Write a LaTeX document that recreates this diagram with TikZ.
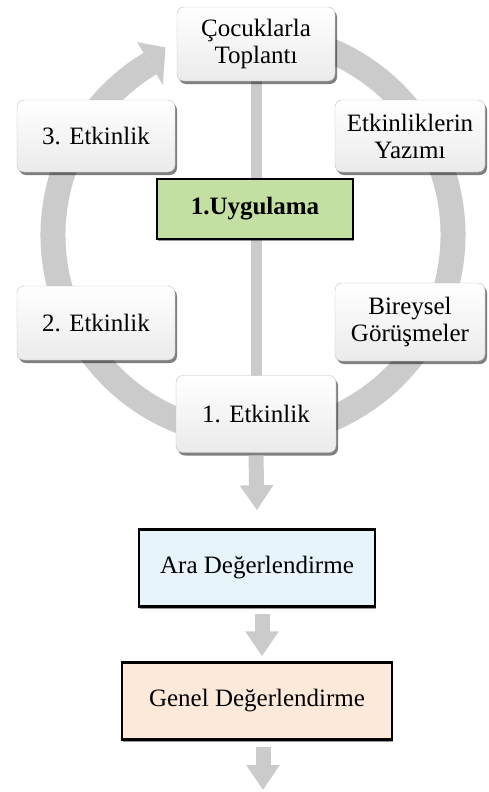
\documentclass[tikz,border=0pt]{standalone}
\usepackage{fontspec}
\setmainfont{Liberation Serif}
\usetikzlibrary{arrows.meta,shadows,calc,backgrounds}

\definecolor{ringgray}{HTML}{CBCBCB}
\definecolor{uygreen}{HTML}{C4DFA2}
\definecolor{arablue}{HTML}{E8F4FC}
\definecolor{genelpeach}{HTML}{FCE9DA}

\tikzset{
  cyclebox/.style={rounded corners=7pt, draw=black!25, top color=white, bottom color=black!8,
    drop shadow={shadow xshift=2pt, shadow yshift=-3pt, opacity=.5, fill=black},
    align=center, minimum width=158pt, minimum height=74pt, inner sep=2pt,
    font=\fontsize{25}{27}\selectfont},
  flatbox/.style={draw=black, line width=2.5pt, align=center, inner sep=2pt,
    drop shadow={shadow xshift=1pt, shadow yshift=-2pt, opacity=.4, fill=black},
    font=\fontsize{25}{27}\selectfont},
  flowarrow/.style={ringgray, line width=15pt, -{Triangle[length=25pt,width=32pt]}}
}

\begin{document}
\begin{tikzpicture}[x=1pt,y=1pt]
  \useasboundingbox (0,0) rectangle (488,-792);

  % ring with arrow
  \coordinate (c) at (253,-235);
  \draw[ringgray, line width=25pt] ($(c)+(80:200)$) arc[start angle=80, end angle=-239, radius=200];
  \fill[ringgray] ($(c)+(121:175)$) -- ($(c)+(121:225)$) -- ($(c)+(115:207)$) -- cycle;

  % cycle boxes
  \node[cyclebox] (top) at (256,-44) {Çocuklarla\\Toplantı};
  \node[cyclebox, minimum width=150pt, minimum height=72pt] (yazim) at (410,-136) {Etkinliklerin\\Yazımı};
  \node[cyclebox, minimum width=150pt, minimum height=78pt] (bireysel) at (410,-322) {Bireysel\\Görüşmeler};
  \node[cyclebox, minimum width=160pt, minimum height=77pt] (etk1) at (256,-414) {1. Etkinlik};
  \node[cyclebox] (etk2) at (96,-323) {2. Etkinlik};
  \node[cyclebox, minimum height=72pt] (etk3) at (96,-136) {3. Etkinlik};

  \node[flatbox, fill=uygreen, minimum width=196pt, minimum height=60pt] (uyg) at (255,-209) {\textbf{1.Uygulama}};

  \begin{scope}[on background layer]
    \draw[ringgray, line width=11pt] (top.center) -- (etk1.center);
  \end{scope}

  % evaluation steps
  \node[flatbox, fill=arablue, minimum width=236pt, minimum height=77pt] (ara) at (257,-568) {Ara Değerlendirme};
  \node[flatbox, fill=genelpeach, minimum width=270pt, minimum height=77pt] (genel) at (257,-701) {Genel Değerlendirme};
  \coordinate (son) at (263,-790);

  \draw[flowarrow] ([yshift=-3pt]etk1.south) -- ([yshift=18pt]ara.north);
  \draw[flowarrow] ([xshift=5pt,yshift=-6pt]ara.south) -- ([xshift=5pt,yshift=5pt]genel.north);
  \draw[flowarrow] ([xshift=6pt,yshift=-6pt]genel.south) -- (son);

\end{tikzpicture}
\end{document}
